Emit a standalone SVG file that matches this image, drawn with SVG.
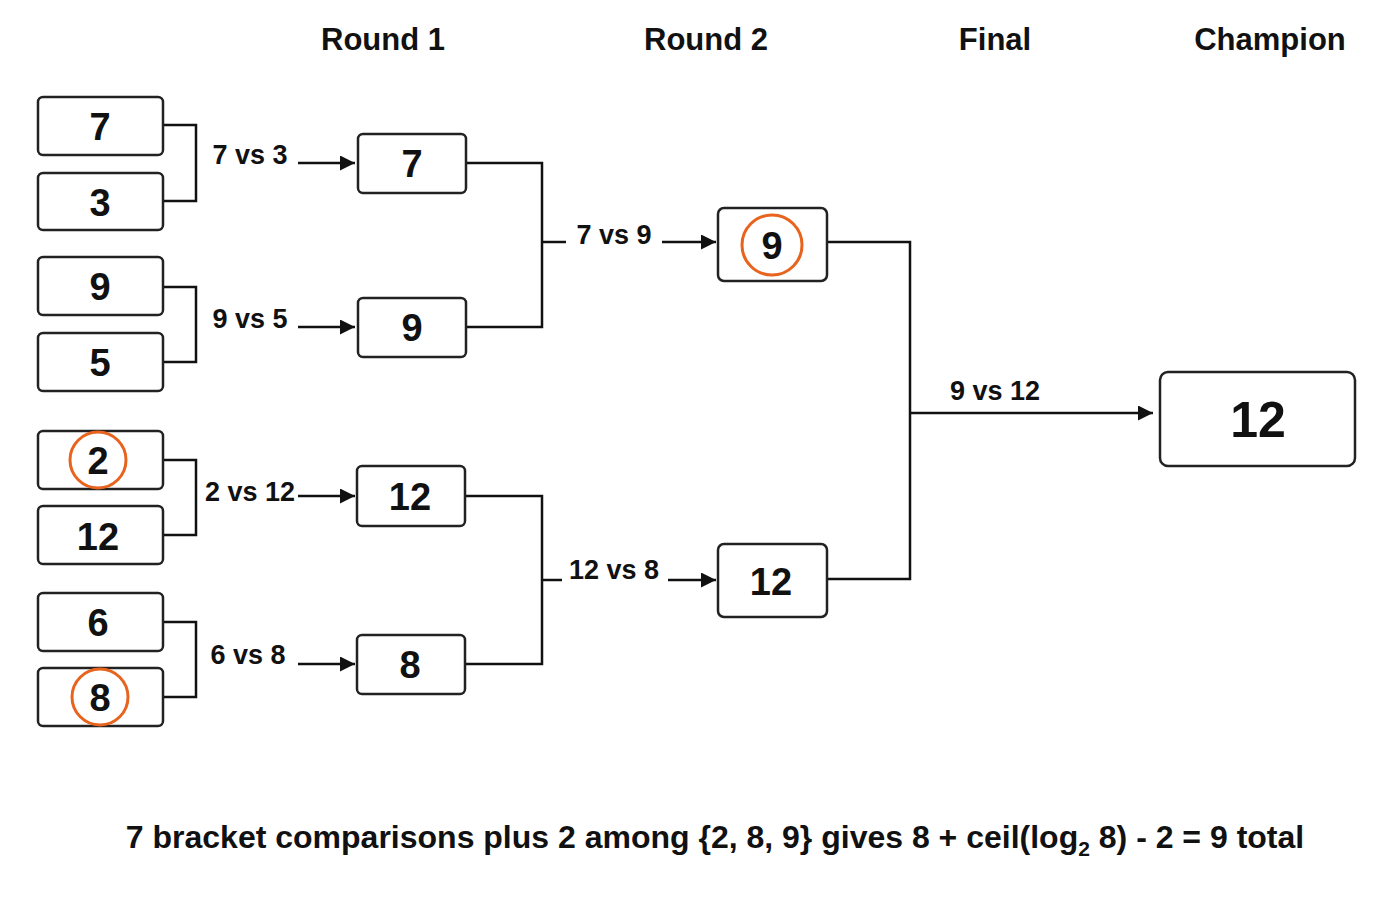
<svg xmlns="http://www.w3.org/2000/svg" width="1400" height="900" viewBox="0 0 1400 900">
<defs>
<style>
.b{fill:#fff;stroke:#222;stroke-width:2.5}
.t{font-family:"Liberation Sans",Arial,sans-serif;font-weight:bold;fill:#111;text-anchor:middle}
.n{font-size:38px}
.l{font-size:27px}
.h{font-size:31px}
.c{fill:none;stroke:#e8641e;stroke-width:3}
.w{fill:none;stroke:#111;stroke-width:2.5}
</style>
<marker id="a" viewBox="0 0 10 10" refX="10" refY="5" markerWidth="15" markerHeight="15" orient="auto" markerUnits="userSpaceOnUse"><path d="M0,0L10,5L0,10z" fill="#111"/></marker>
</defs>
<rect width="1400" height="900" fill="#fff"/>
<g id="headers" class="t h">
<text x="383" y="50">Round 1</text><text x="706" y="50">Round 2</text><text x="995" y="50">Final</text><text x="1270" y="50">Champion</text>
</g>
<g id="connectors" class="w">
<path d="M163,125H196V201H163"/><path d="M163,287H196V362H163"/><path d="M163,460H196V535H163"/><path d="M163,622H196V697H163"/>
<path d="M298,163H355" marker-end="url(#a)"/><path d="M298,327H355" marker-end="url(#a)"/><path d="M298,496H355" marker-end="url(#a)"/><path d="M298,664H355" marker-end="url(#a)"/>
<path d="M466,163H542V327H466"/><path d="M542,242H566"/><path d="M662,242H716" marker-end="url(#a)"/>
<path d="M466,496H542V664H466"/><path d="M542,580H562"/><path d="M668,580H716" marker-end="url(#a)"/>
<path d="M827,242H910V579H827"/><path d="M910,413H1153" marker-end="url(#a)"/>
</g>
<g id="labels" class="t l">
<text x="250" y="164">7 vs 3</text><text x="250" y="328">9 vs 5</text><text x="250" y="501">2 vs 12</text><text x="248" y="664">6 vs 8</text>
<text x="614" y="244">7 vs 9</text><text x="614" y="579">12 vs 8</text><text x="995" y="400">9 vs 12</text>
</g>
<g id="leaf7"><rect class="b" x="38" y="97" width="125" height="58" rx="5"/><text class="t n" x="100" y="140">7</text></g>
<g id="leaf3"><rect class="b" x="38" y="173" width="125" height="57" rx="5"/><text class="t n" x="100" y="216">3</text></g>
<g id="leaf9"><rect class="b" x="38" y="257" width="125" height="58" rx="5"/><text class="t n" x="100" y="300">9</text></g>
<g id="leaf5"><rect class="b" x="38" y="333" width="125" height="58" rx="5"/><text class="t n" x="100" y="376">5</text></g>
<g id="leaf2"><rect class="b" x="38" y="431" width="125" height="58" rx="5"/><circle class="c" cx="98" cy="460" r="28"/><text class="t n" x="98" y="474">2</text></g>
<g id="leaf12"><rect class="b" x="38" y="506" width="125" height="58" rx="5"/><text class="t n" x="98" y="550">12</text></g>
<g id="leaf6"><rect class="b" x="38" y="593" width="125" height="58" rx="5"/><text class="t n" x="98" y="636">6</text></g>
<g id="leaf8"><rect class="b" x="38" y="668" width="125" height="58" rx="5"/><circle class="c" cx="100" cy="697" r="28"/><text class="t n" x="100" y="711">8</text></g>
<g id="r1a"><rect class="b" x="358" y="134" width="108" height="59" rx="5"/><text class="t n" x="412" y="177">7</text></g>
<g id="r1b"><rect class="b" x="358" y="298" width="108" height="59" rx="5"/><text class="t n" x="412" y="341">9</text></g>
<g id="r1c"><rect class="b" x="357" y="466" width="108" height="60" rx="5"/><text class="t n" x="410" y="510">12</text></g>
<g id="r1d"><rect class="b" x="357" y="635" width="108" height="59" rx="5"/><text class="t n" x="410" y="678">8</text></g>
<g id="r2a"><rect class="b" x="718" y="208" width="109" height="73" rx="6"/><circle class="c" cx="772" cy="245" r="30"/><text class="t n" x="772" y="259">9</text></g>
<g id="r2b"><rect class="b" x="718" y="544" width="109" height="73" rx="6"/><text class="t n" x="771" y="595">12</text></g>
<g id="champ"><rect class="b" x="1160" y="372" width="195" height="94" rx="8"/><text class="t" style="font-size:50px" x="1258" y="437">12</text></g>
<text class="t" style="font-size:32px" x="715" y="848">7 bracket comparisons plus 2 among {2, 8, 9} gives 8 + ceil(log<tspan font-size="21" dy="8">2</tspan><tspan dy="-8"> 8) - 2 = 9 total</tspan></text>
</svg>
